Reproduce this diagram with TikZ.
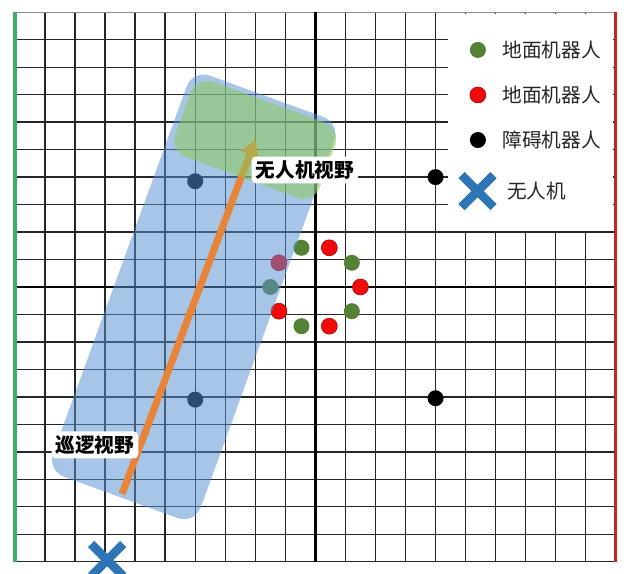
\documentclass[tikz,border=0pt]{standalone}
\usepackage{fontspec}
\newfontfamily\cjk{Noto Sans CJK SC}
\usetikzlibrary{positioning,arrows.meta,shapes.misc}
\definecolor{patrolblue}{RGB}{87,144,208}
\definecolor{uavgreen}{RGB}{140,200,90}
\definecolor{botgreen}{RGB}{84,130,53}
\definecolor{botred}{RGB}{240,10,10}
\definecolor{pathorange}{RGB}{232,131,58}
\definecolor{uavblue}{RGB}{46,117,182}
\definecolor{leftgreen}{RGB}{60,175,100}
\definecolor{rightred}{RGB}{200,35,35}

\begin{document}
\begin{tikzpicture}[x=0.751cm,y=0.68675cm]
  \tikzset{gridline/.style = {black!85,line width=1pt}}
  \tikzset{axisline/.style = {black,line width=1.8pt}}
  \tikzset{robot/.style = {shape=circle,minimum size=0.4cm,inner sep=0pt}}
  \tikzset{groundgreen/.style = {robot,fill=botgreen}}
  \tikzset{groundred/.style = {robot,fill=botred,draw=red!70!black,line width=0.4pt}}
  \tikzset{obstacle/.style = {robot,fill=black}}
  \tikzset{uav/.style = {cross out,draw=uavblue,line width=0.22cm,minimum size=0.58cm,inner sep=0pt}}
  \tikzset{legendtext/.style = {font=\cjk\fontsize{14}{16}\selectfont,text=black!85,inner sep=0pt}}
  \tikzset{fieldlabel/.style = {font=\cjk\bfseries\fontsize{14}{16}\selectfont,fill=white,rounded corners=3pt,inner sep=0.1cm}}
  \tikzset{field/.style = {shape=rectangle,rotate=70,inner sep=0pt,rounded corners=0.45cm}}

  \useasboundingbox (-10.499,-10.4475) rectangle (10.806,10.4475);

    \foreach \i in {-10,...,10}
    \draw[gridline] (\i,-10) -- (\i,10);
    \foreach \j in {-10,...,9}
    \draw[gridline] (-10,\j) -- (10,\j);
  \draw[gridline,black!45] (-10,10) -- (10,10);
  \draw[axisline] (-10,0) -- (10,0);
  \draw[axisline] (0,-10) -- (0,10);
  \draw[leftgreen,line width=2.2pt] (-10,-10) -- (-10,10);
  \draw[rightred,line width=2.2pt] (10,-10) -- (10,10);

  \fill[white] (4.4,2.03) rectangle (9.9,9.93);
	\node[groundgreen] (lg1) at (5.41,8.63) {};
	\node[groundred] (lg2) at (5.41,6.99) {};
	\node[obstacle] (lg3) at (5.41,5.35) {};
	\node[uav] (lg4) at (5.40,3.49) {};
	\node[legendtext,right=0.4cm of lg1] (lt1) {地面机器人};
	\node[legendtext,right=0.4cm of lg2] (lt2) {地面机器人};
	\node[legendtext,right=0.4cm of lg3] (lt3) {障碍机器人};
	\node[legendtext,right=0.33cm of lg4] (lt4) {无人机};

	\node[obstacle] (ob1) at (-4,3.85) {};
	\node[obstacle] (ob2) at (-4,-4.1) {};
	\node[obstacle] (ob3) at (4,4) {};
	\node[obstacle] (ob4) at (4,-4.05) {};

    \foreach \a [count=\n] in {0,72,...,288}
    \node[groundred] (r\n) at (\a:1.5) {};
    \foreach \a [count=\n] in {36,108,...,324}
    \node[groundgreen] (g\n) at (\a:1.5) {};

	\node[field,fill=patrolblue,fill opacity=0.52,minimum width=10.67cm,minimum height=3.93cm] (patrol) at (-4.05,-0.36) {};
	\coordinate (uavcenter) at (-2.0,5.36);
	\draw[pathorange,line width=5pt,shorten <=0.1cm,-{Triangle[length=0.4cm,width=0.45cm]}] (patrol.west) -- (uavcenter);
	\node[field,fill=uavgreen,fill opacity=0.55,minimum width=2cm,minimum height=3.85cm] (uavview) at (uavcenter) {};

	\node[fieldlabel] (uavlabel) at (-0.35,4.26) {无人机视野};
	\node[fieldlabel] (patrollabel) at (-7.34,-5.75) {巡逻视野};

	\node[uav] (drone) at (-6.93,-9.94) {};
\end{tikzpicture}
\end{document}
